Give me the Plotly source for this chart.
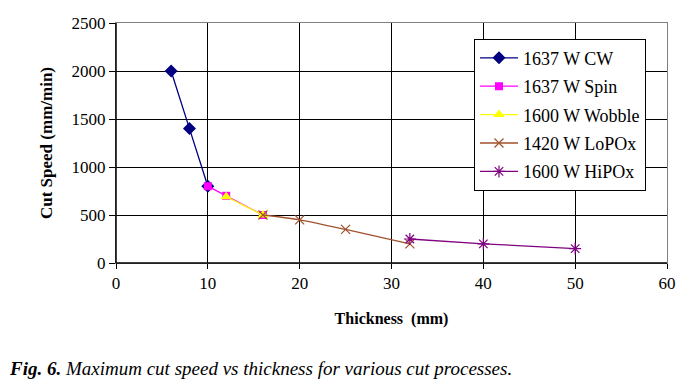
import plotly.graph_objects as go

cw_x = [6, 8, 10]
cw_y = [2000, 1400, 800]
spin_x = [10, 12, 16]
spin_y = [800, 700, 500]
wob_x = [12, 16]
wob_y = [690, 500]
lo_x = [16, 20, 25, 32]
lo_y = [500, 450, 350, 200]
hi_x = [32, 40, 50]
hi_y = [250, 200, 150]

names = ["1637 W CW", "1637 W Spin", "1600 W Wobble", "1420 W LoPOx", "1600 W HiPOx"]

fig = go.Figure()
series = [
    (cw_x, cw_y, "#000080", "diamond", 10, None),
    (spin_x, spin_y, "#FF00FF", "square", 8, None),
    (wob_x, wob_y, "#FFFF00", "triangle-up", 10, None),
    (lo_x, lo_y, "#A0522D", "x-thin", 9, "#A0522D"),
    (hi_x, hi_y, "#800080", "asterisk", 10, "#800080"),
]
for i, ((xs, ys, c, sym, sz, lc), nm) in enumerate(zip(series, names)):
    mk = dict(symbol=sym, size=sz, color=c)
    if lc:
        mk["line"] = dict(color=lc, width=1.2)
    fig.add_trace(go.Scatter(x=xs, y=ys, name=nm, mode="lines+markers", legendgroup="g%d" % i,
                             line=dict(color=c, width=1.3, shape="spline", smoothing=0.6),
                             marker=mk))

axis_font = dict(family="Liberation Serif", size=17, color="black")
fig.update_layout(
    width=686, height=383,
    margin=dict(l=116, r=19, t=23, b=120),
    paper_bgcolor="white", plot_bgcolor="white",
    showlegend=True,
    legend=dict(x=0.6497, y=0.935, xanchor="left", yanchor="top",
                bordercolor="black", borderwidth=1, bgcolor="white",
                tracegroupgap=2, itemwidth=38,
                font=dict(family="Liberation Serif", size=18, color="black")),
    xaxis=dict(range=[0, 60], tickvals=[0, 10, 20, 30, 40, 50, 60],
               showgrid=True, gridcolor="black", gridwidth=1,
               ticks="outside", ticklen=5, tickcolor="black",
               showline=True, linecolor="#808080", mirror=True,
               zeroline=False, tickfont=axis_font, automargin=False,
               title=dict(text="<b>Thickness&nbsp; (mm)</b>",
                          font=dict(family="Liberation Serif", size=16, color="black"),
                          standoff=20)),
    yaxis=dict(range=[0, 2500], tickvals=[0, 500, 1000, 1500, 2000, 2500],
               showgrid=True, gridcolor="black", gridwidth=1,
               ticks="outside", ticklen=6, tickcolor="black",
               showline=True, linecolor="#808080", mirror=True,
               zeroline=False, tickfont=axis_font, automargin=False,
               title=dict(text="<b>Cut Speed (mm/min)</b>",
                          font=dict(family="Liberation Serif", size=17, color="black"),
                          standoff=14)),
)
fig.add_shape(type="line", xref="paper", yref="paper", x0=0, x1=0, y0=0, y1=1,
              line=dict(color="black", width=1.5))
fig.add_shape(type="line", xref="paper", yref="paper", x0=0, x1=1, y0=0, y1=0,
              line=dict(color="black", width=1.5))
fig.add_annotation(xref="paper", yref="paper", x=-0.198, y=-0.438, xanchor="left", yanchor="middle",
                   showarrow=False,
                   text="<b><i>Fig. 6.</i></b><i> Maximum cut speed vs thickness for various cut processes.</i>",
                   font=dict(family="Liberation Serif", size=19, color="black"))
fig.write_html("out.html", config={"displayModeBar": False},
               post_script="document.body.style.margin='0';")
